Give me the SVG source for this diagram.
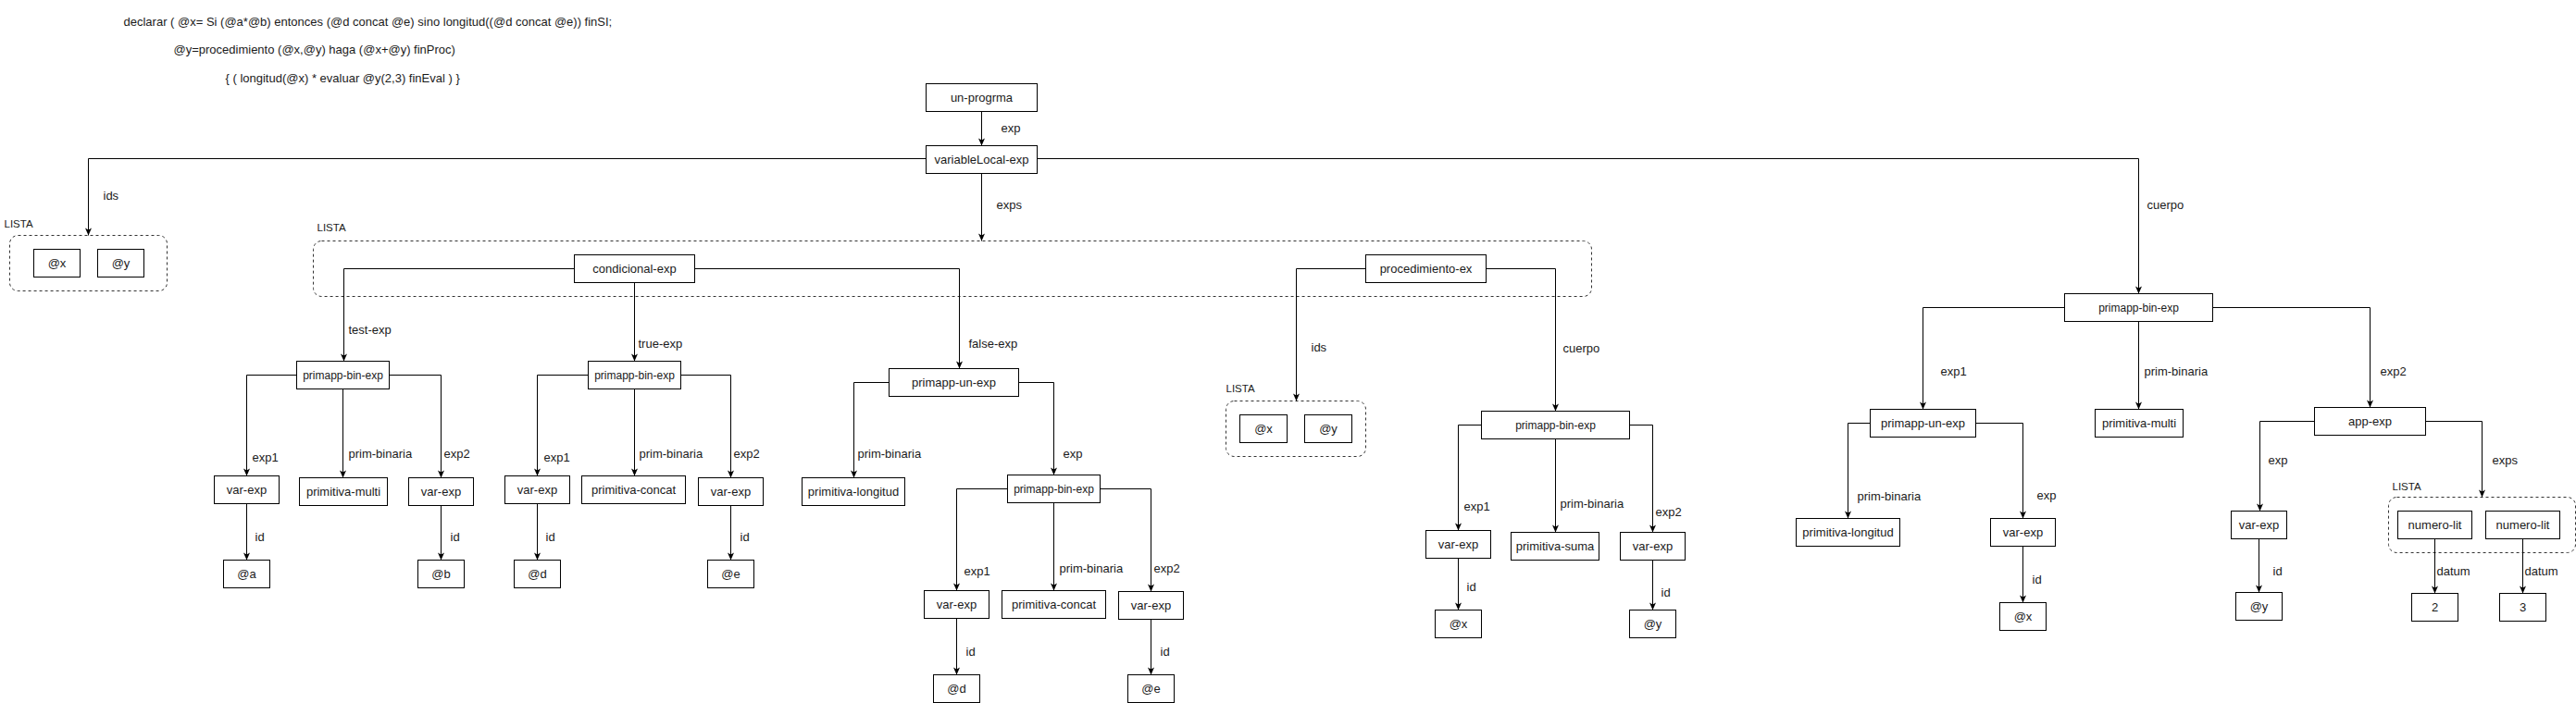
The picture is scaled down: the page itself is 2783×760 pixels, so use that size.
<svg xmlns="http://www.w3.org/2000/svg" width="2783" height="760" viewBox="0 0 2783 760">
<style>
.n{fill:#fff;stroke:#000;stroke-width:1}
.c{fill:none;stroke:#333;stroke-width:1;stroke-dasharray:3 3}
.e{fill:none;stroke:#000;stroke-width:1;marker-end:url(#arr)}
text{font-family:"Liberation Sans",Arial,sans-serif;fill:#1a1a1a;dominant-baseline:central}
.t{font-size:13px;text-anchor:middle}
.b{font-size:12px}
.l{font-size:13px}
.ls{font-size:11.5px}
.h{font-size:13px}
</style>
<defs>
<marker id="arr" viewBox="-9 -5 10 10" refX="0" refY="0" markerWidth="10" markerHeight="10" markerUnits="userSpaceOnUse" orient="auto">
<path d="M-8,-3.5 L0,0 L-8,3.5 L-6,0 Z" fill="#000"/>
</marker>
</defs>
<rect x="0" y="0" width="2783" height="760" fill="#fff"/>
<g transform="translate(0.5,0.5)">
<g id="header">
<text class="h" x="133" y="23">declarar ( @x= Si (@a*@b) entonces (@d concat @e) sino longitud((@d concat @e)) finSI;</text>
<text class="h" x="187" y="53">@y=procedimiento (@x,@y) haga (@x+@y) finProc)</text>
<text class="h" x="243" y="84">{ ( longitud(@x) * evaluar @y(2,3) finEval ) }</text>
</g>
<g id="lista-ids">
<rect class="c" x="10" y="254" width="170" height="60" rx="9"/>
<text class="ls" x="4" y="241">LISTA</text>
</g>
<g id="lista-exps">
<rect class="c" x="338" y="260" width="1381" height="60" rx="9"/>
<text class="ls" x="342" y="245">LISTA</text>
</g>
<g id="lista-proc-ids">
<rect class="c" x="1324" y="433" width="151" height="60" rx="9"/>
<text class="ls" x="1324" y="419">LISTA</text>
</g>
<g id="lista-app-exps">
<rect class="c" x="2580" y="537" width="202" height="60" rx="9"/>
<text class="ls" x="2584" y="525">LISTA</text>
</g>
<g id="connectors">
<path class="e" d="M1060,120 V157"/>
<path class="e" d="M1000,171 H95 V254"/>
<path class="e" d="M1060,187 V260"/>
<path class="e" d="M1120,171 H2310 V317"/>
<path class="e" d="M620,290 H371 V390"/>
<path class="e" d="M685,305 V390"/>
<path class="e" d="M750,290 H1036 V398"/>
<path class="e" d="M1475,290 H1400 V433"/>
<path class="e" d="M1605,290 H1680 V444"/>
<path class="e" d="M320,405 H266 V514"/>
<path class="e" d="M370,420 V516"/>
<path class="e" d="M420,405 H476 V516"/>
<path class="e" d="M266,544 V605"/>
<path class="e" d="M476,546 V605"/>
<path class="e" d="M635,405 H580 V514"/>
<path class="e" d="M685,420 V514"/>
<path class="e" d="M735,405 H789 V516"/>
<path class="e" d="M580,544 V605"/>
<path class="e" d="M789,546 V605"/>
<path class="e" d="M960,413 H922 V516"/>
<path class="e" d="M1100,413 H1138 V513"/>
<path class="e" d="M1088,528 H1033 V638"/>
<path class="e" d="M1138,543 V638"/>
<path class="e" d="M1188,528 H1243 V639"/>
<path class="e" d="M1033,668 V729"/>
<path class="e" d="M1243,669 V729"/>
<path class="e" d="M1600,459 H1575 V573"/>
<path class="e" d="M1680,474 V575"/>
<path class="e" d="M1760,459 H1785 V575"/>
<path class="e" d="M1575,603 V659"/>
<path class="e" d="M1785,605 V659"/>
<path class="e" d="M2230,332 H2077 V442"/>
<path class="e" d="M2310,347 V442"/>
<path class="e" d="M2390,332 H2560 V440"/>
<path class="e" d="M2020,457 H1996 V560"/>
<path class="e" d="M2134,457 H2185 V560"/>
<path class="e" d="M2185,590 V651"/>
<path class="e" d="M2500,455 H2441 V552"/>
<path class="e" d="M2620,455 H2681 V537"/>
<path class="e" d="M2440,582 V640"/>
<path class="e" d="M2630,582 V641"/>
<path class="e" d="M2725,582 V641"/>
<g id="edge-labels">
<text class="l" x="1081" y="138">exp</text>
<text class="l" x="111" y="211">ids</text>
<text class="l" x="1076" y="221">exps</text>
<text class="l" x="2319" y="221">cuerpo</text>
<text class="l" x="376" y="356">test-exp</text>
<text class="l" x="689" y="371">true-exp</text>
<text class="l" x="1046" y="371">false-exp</text>
<text class="l" x="1416" y="375">ids</text>
<text class="l" x="1688" y="376">cuerpo</text>
<text class="l" x="272" y="494">exp1</text>
<text class="l" x="376" y="490">prim-binaria</text>
<text class="l" x="479" y="490">exp2</text>
<text class="l" x="275" y="580">id</text>
<text class="l" x="486" y="580">id</text>
<text class="l" x="587" y="494">exp1</text>
<text class="l" x="690" y="490">prim-binaria</text>
<text class="l" x="792" y="490">exp2</text>
<text class="l" x="589" y="580">id</text>
<text class="l" x="799" y="580">id</text>
<text class="l" x="926" y="490">prim-binaria</text>
<text class="l" x="1148" y="490">exp</text>
<text class="l" x="1041" y="617">exp1</text>
<text class="l" x="1144" y="614">prim-binaria</text>
<text class="l" x="1246" y="614">exp2</text>
<text class="l" x="1043" y="704">id</text>
<text class="l" x="1253" y="704">id</text>
<text class="l" x="1581" y="547">exp1</text>
<text class="l" x="1685" y="544">prim-binaria</text>
<text class="l" x="1788" y="553">exp2</text>
<text class="l" x="1584" y="634">id</text>
<text class="l" x="1794" y="640">id</text>
<text class="l" x="2096" y="401">exp1</text>
<text class="l" x="2316" y="401">prim-binaria</text>
<text class="l" x="2571" y="401">exp2</text>
<text class="l" x="2006" y="536">prim-binaria</text>
<text class="l" x="2200" y="535">exp</text>
<text class="l" x="2195" y="626">id</text>
<text class="l" x="2450" y="497">exp</text>
<text class="l" x="2692" y="497">exps</text>
<text class="l" x="2455" y="617">id</text>
<text class="l" x="2632" y="617">datum</text>
<text class="l" x="2727" y="617">datum</text>
</g>
</g>
<g id="n-unprogrma"><rect class="n" x="1000" y="90" width="120" height="30"/><text class="t" x="1060" y="105">un-progrma</text></g>
<g id="n-variablelocal"><rect class="n" x="1000" y="157" width="120" height="30"/><text class="t" x="1060" y="172">variableLocal-exp</text></g>
<g id="n-ids-x"><rect class="n" x="36" y="269" width="50" height="30"/><text class="t" x="61" y="284">@x</text></g>
<g id="n-ids-y"><rect class="n" x="105" y="269" width="50" height="30"/><text class="t" x="130" y="284">@y</text></g>
<g id="n-condicional"><rect class="n" x="620" y="275" width="130" height="30"/><text class="t" x="685" y="290">condicional-exp</text></g>
<g id="n-procedimiento"><rect class="n" x="1475" y="275" width="130" height="30"/><text class="t" x="1540" y="290">procedimiento-ex</text></g>
<g id="n-a-bin"><rect class="n" x="320" y="390" width="100" height="30"/><text class="t b" x="370" y="405">primapp-bin-exp</text></g>
<g id="n-a-var1"><rect class="n" x="231" y="514" width="70" height="30"/><text class="t" x="266" y="529">var-exp</text></g>
<g id="n-a-prim"><rect class="n" x="323" y="516" width="95" height="30"/><text class="t" x="370.5" y="531">primitiva-multi</text></g>
<g id="n-a-var2"><rect class="n" x="441" y="516" width="70" height="30"/><text class="t" x="476" y="531">var-exp</text></g>
<g id="n-a-a"><rect class="n" x="241" y="605" width="50" height="30"/><text class="t" x="266" y="620">@a</text></g>
<g id="n-a-b"><rect class="n" x="451" y="605" width="50" height="30"/><text class="t" x="476" y="620">@b</text></g>
<g id="n-b-bin"><rect class="n" x="635" y="390" width="100" height="30"/><text class="t b" x="685" y="405">primapp-bin-exp</text></g>
<g id="n-b-var1"><rect class="n" x="545" y="514" width="70" height="30"/><text class="t" x="580" y="529">var-exp</text></g>
<g id="n-b-prim"><rect class="n" x="628" y="514" width="112" height="30"/><text class="t" x="684" y="529">primitiva-concat</text></g>
<g id="n-b-var2"><rect class="n" x="754" y="516" width="70" height="30"/><text class="t" x="789" y="531">var-exp</text></g>
<g id="n-b-d"><rect class="n" x="555" y="605" width="50" height="30"/><text class="t" x="580" y="620">@d</text></g>
<g id="n-b-e"><rect class="n" x="764" y="605" width="50" height="30"/><text class="t" x="789" y="620">@e</text></g>
<g id="n-c-un"><rect class="n" x="960" y="398" width="140" height="30"/><text class="t" x="1030" y="413">primapp-un-exp</text></g>
<g id="n-c-prim"><rect class="n" x="866" y="516" width="111" height="30"/><text class="t" x="921.5" y="531">primitiva-longitud</text></g>
<g id="n-d-bin"><rect class="n" x="1088" y="513" width="100" height="30"/><text class="t b" x="1138" y="528">primapp-bin-exp</text></g>
<g id="n-d-var1"><rect class="n" x="998" y="638" width="70" height="30"/><text class="t" x="1033" y="653">var-exp</text></g>
<g id="n-d-prim"><rect class="n" x="1082" y="638" width="112" height="30"/><text class="t" x="1138" y="653">primitiva-concat</text></g>
<g id="n-d-var2"><rect class="n" x="1208" y="639" width="70" height="30"/><text class="t" x="1243" y="654">var-exp</text></g>
<g id="n-d-d"><rect class="n" x="1008" y="729" width="50" height="30"/><text class="t" x="1033" y="744">@d</text></g>
<g id="n-d-e"><rect class="n" x="1218" y="729" width="50" height="30"/><text class="t" x="1243" y="744">@e</text></g>
<g id="n-p-x"><rect class="n" x="1339" y="448" width="51" height="30"/><text class="t" x="1364.5" y="463">@x</text></g>
<g id="n-p-y"><rect class="n" x="1409" y="448" width="51" height="30"/><text class="t" x="1434.5" y="463">@y</text></g>
<g id="n-e-bin"><rect class="n" x="1600" y="444" width="160" height="30"/><text class="t b" x="1680" y="459">primapp-bin-exp</text></g>
<g id="n-e-var1"><rect class="n" x="1540" y="573" width="70" height="30"/><text class="t" x="1575" y="588">var-exp</text></g>
<g id="n-e-prim"><rect class="n" x="1632" y="575" width="95" height="30"/><text class="t" x="1679.5" y="590">primitiva-suma</text></g>
<g id="n-e-var2"><rect class="n" x="1750" y="575" width="70" height="30"/><text class="t" x="1785" y="590">var-exp</text></g>
<g id="n-e-x"><rect class="n" x="1550" y="659" width="50" height="30"/><text class="t" x="1575" y="674">@x</text></g>
<g id="n-e-y"><rect class="n" x="1760" y="659" width="50" height="30"/><text class="t" x="1785" y="674">@y</text></g>
<g id="n-f-bin"><rect class="n" x="2230" y="317" width="160" height="30"/><text class="t b" x="2310" y="332">primapp-bin-exp</text></g>
<g id="n-f-prim"><rect class="n" x="2263" y="442" width="95" height="30"/><text class="t" x="2310.5" y="457">primitiva-multi</text></g>
<g id="n-g-un"><rect class="n" x="2020" y="442" width="114" height="30"/><text class="t" x="2077" y="457">primapp-un-exp</text></g>
<g id="n-g-prim"><rect class="n" x="1940" y="560" width="112" height="30"/><text class="t" x="1996" y="575">primitiva-longitud</text></g>
<g id="n-g-var"><rect class="n" x="2150" y="560" width="70" height="30"/><text class="t" x="2185" y="575">var-exp</text></g>
<g id="n-g-x"><rect class="n" x="2160" y="651" width="50" height="30"/><text class="t" x="2185" y="666">@x</text></g>
<g id="n-h-app"><rect class="n" x="2500" y="440" width="120" height="30"/><text class="t" x="2560" y="455">app-exp</text></g>
<g id="n-h-var"><rect class="n" x="2410" y="552" width="60" height="30"/><text class="t" x="2440" y="567">var-exp</text></g>
<g id="n-h-y"><rect class="n" x="2415" y="640" width="50" height="30"/><text class="t" x="2440" y="655">@y</text></g>
<g id="n-h-num1"><rect class="n" x="2590" y="552" width="80" height="30"/><text class="t" x="2630" y="567">numero-lit</text></g>
<g id="n-h-num2"><rect class="n" x="2685" y="552" width="80" height="30"/><text class="t" x="2725" y="567">numero-lit</text></g>
<g id="n-h-2"><rect class="n" x="2605" y="641" width="50" height="30"/><text class="t" x="2630" y="656">2</text></g>
<g id="n-h-3"><rect class="n" x="2700" y="641" width="50" height="30"/><text class="t" x="2725" y="656">3</text></g>
</g>
</svg>
